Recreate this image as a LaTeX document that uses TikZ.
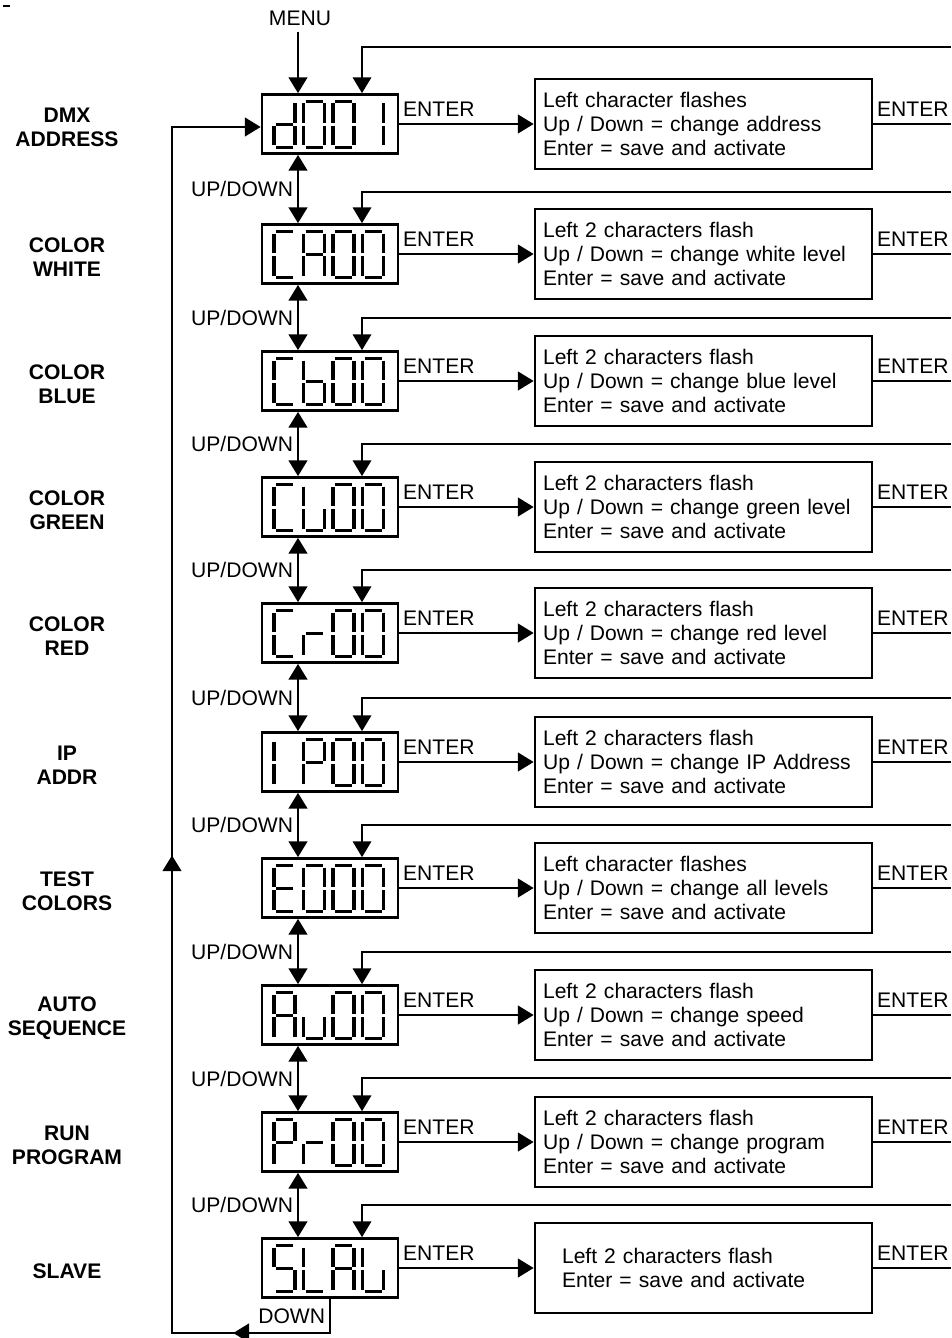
\documentclass[tikz,border=0pt]{standalone}
\usepackage{fontspec}
\setmainfont{Liberation Sans}
\usetikzlibrary{arrows.meta}
\usetikzlibrary{decorations.markings}

% seven segment pieces, local units, y downwards
\newcommand{\sega}{(2,0) -- (19,0)}
\newcommand{\segb}{(21,2) -- (21,21.5)}
\newcommand{\segc}{(21,24.5) -- (21,44)}
\newcommand{\segd}{(2,46) -- (19,46)}
\newcommand{\sege}{(0,24.5) -- (0,44)}
\newcommand{\segf}{(0,2) -- (0,21.5)}
\newcommand{\segg}{(2,23) -- (19,23)}

\newcommand{\sgZero}{a,b,c,d,e,f}
\newcommand{\sgOne}{b,c}
\newcommand{\sgd}{b,c,d,e,g}
\newcommand{\sgC}{a,d,e,f}
\newcommand{\sgA}{a,b,c,e,f,g}
\newcommand{\sgb}{c,d,e,f,g}
\newcommand{\sgU}{c,d,e,f}
\newcommand{\sgr}{e,g}
\newcommand{\sgI}{e,f}
\newcommand{\sgP}{a,b,e,f,g}
\newcommand{\sgE}{a,d,e,f,g}
\newcommand{\sgu}{c,d,e}
\newcommand{\sgS}{a,c,d,f,g}
\newcommand{\sgL}{d,e,f}

\newcommand{\lcdchar}[3]{%
  \foreach \s in #3 {%
    \edef\lcdpath{\noexpand\draw[seg,shift={(#1,#2)}] \csname seg\s\endcsname;}%
    \lcdpath}}

\newcommand{\menurow}[8]{%
  \node[side] (l#1) at (67,#2+3) {#3};
  \node[disp] (d#1) at (330,#2) {};
  \lcdchar{274}{#2-22.5}{#4}
  \lcdchar{303.5}{#2-22.5}{#5}
  \lcdchar{333}{#2-22.5}{#6}
  \lcdchar{362.5}{#2-22.5}{#7}
  \node[info] (t#1) at (703.5,#2) {#8};
  \coordinate (r#1) at (951,#2);
  \draw[conn] (d#1) -- (t#1);
  \node[keylbl] (e#1) at (d#1.east) {ENTER};
  \draw[wire] (t#1) -- (r#1);
  \node[keylbl] (x#1) at (t#1.east) {ENTER};
}

\newcommand{\menuback}[2]{%
  \coordinate (f#1) at (951,#2);
  \draw[back] (f#1) -| (d#1.north -| fb);
}

\tikzset{
  tip/.tip={Triangle[length=9pt,width=10.5pt]},
  seg/.style={line width=2pt},
  disp/.style={draw, line width=1.5pt, minimum width=2.72cm, minimum height=1.18cm, inner sep=0pt},
  info/.style={draw, line width=1.5pt, text width=6.42cm, inner xsep=0.16cm, minimum height=1.8cm, align=left},
  side/.style={font=\fontsize{12}{13.6}\selectfont\bfseries, align=center},
  conn/.style={line width=1.6pt, -tip},
  dbl/.style={line width=1.6pt, tip-tip},
  back/.style={line width=1.1pt, -tip},
  wire/.style={line width=1.1pt},
  keylbl/.style={anchor=south west, inner xsep=2pt, inner ysep=4pt},
  udlbl/.style={anchor=east, inner xsep=2pt},
  loopline/.style={line width=1.6pt, -tip, postaction={decorate},
    decoration={markings,
      mark=at position 2.62cm with {\arrow{tip}},
      mark=at position 13.4cm with {\arrow{tip}}}},
}

\begin{document}
\begin{tikzpicture}[x=0.02cm, y=-0.02cm, font=\fontsize{12}{13.6}\selectfont]
  \useasboundingbox (0,0) rectangle (951,1338);
  \draw[line width=0.6pt] (3,6) -- (10,6);

  \coordinate (ud) at (298,0);
  \coordinate (fb) at (362,0);
  \coordinate (dn) at (330,0);

  \menurow{1}{124}{DMX\\ADDRESS}{\sgd}{\sgZero}{\sgZero}{\sgOne}%
    {Left character flashes\\Up / Down = change address\\Enter = save and activate}
  \menurow{2}{254}{COLOR\\WHITE}{\sgC}{\sgA}{\sgZero}{\sgZero}%
    {Left 2 characters flash\\Up / Down = change white level\\Enter = save and activate}
  \menurow{3}{381}{COLOR\\BLUE}{\sgC}{\sgb}{\sgZero}{\sgZero}%
    {Left 2 characters flash\\Up / Down = change blue level\\Enter = save and activate}
  \menurow{4}{507}{COLOR\\GREEN}{\sgC}{\sgU}{\sgZero}{\sgZero}%
    {Left 2 characters flash\\Up / Down = change green level\\Enter = save and activate}
  \menurow{5}{633}{COLOR\\RED}{\sgC}{\sgr}{\sgZero}{\sgZero}%
    {Left 2 characters flash\\Up / Down = change red level\\Enter = save and activate}
  \menurow{6}{762}{IP\\ADDR}{\sgI}{\sgP}{\sgZero}{\sgZero}%
    {Left 2 characters flash\\Up / Down = change IP Address\\Enter = save and activate}
  \menurow{7}{888}{TEST\\COLORS}{\sgE}{\sgZero}{\sgZero}{\sgZero}%
    {Left character flashes\\Up / Down = change all levels\\Enter = save and activate}
  \menurow{8}{1015}{AUTO\\SEQUENCE}{\sgA}{\sgu}{\sgZero}{\sgZero}%
    {Left 2 characters flash\\Up / Down = change speed\\Enter = save and activate}
  \menurow{9}{1142}{RUN\\PROGRAM}{\sgP}{\sgr}{\sgZero}{\sgZero}%
    {Left 2 characters flash\\Up / Down = change program\\Enter = save and activate}
  \menurow{10}{1268}{SLAVE}{\sgS}{\sgL}{\sgA}{\sgU}%
    {\hspace*{0.38cm}Left 2 characters flash\\\hspace*{0.38cm}Enter = save and activate}

  % loops back from the right
  \menuback{1}{47}
  \menuback{2}{192}
  \menuback{3}{318}
  \menuback{4}{444}
  \menuback{5}{570}
  \menuback{6}{698}
  \menuback{7}{825}
  \menuback{8}{952}
  \menuback{9}{1078}
  \menuback{10}{1205}

  \node (menu) at (300,18) {MENU};
  \draw[conn] (menu.south -| ud) -- (d1.north -| ud);

  \foreach \a/\b in {1/2,2/3,3/4,4/5,5/6,6/7,7/8,8/9,9/10}
    \draw[dbl] (d\a.south -| ud) -- node[udlbl] {UP/DOWN} (d\b.north -| ud);

  % back to the top
  \coordinate (lb) at (172,1333);
  \coordinate (lt) at (172,127);
  \draw[loopline] (d10.south -| dn) -- node[udlbl] {DOWN} (dn |- lb)
    -- (lb) -- (lt) -- (lt -| d1.west);
\end{tikzpicture}
\end{document}
